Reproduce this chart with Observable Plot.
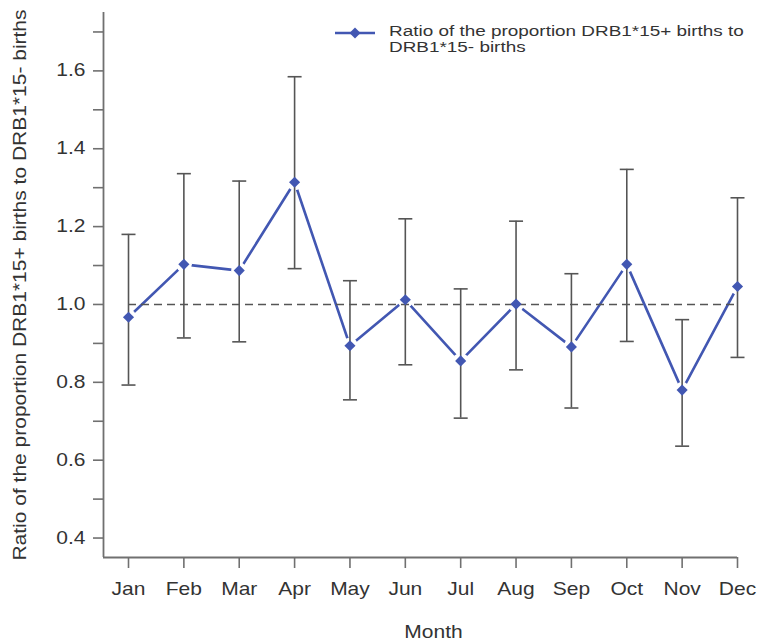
<!DOCTYPE html>
<html>
<head>
<meta charset="utf-8">
<script src="https://cdn.jsdelivr.net/npm/d3@7"></script>
<script src="https://cdn.jsdelivr.net/npm/@observablehq/plot@0.6"></script>
<style>
  html, body { margin: 0; padding: 0; background: #fff; }
  #wrap { position: relative; width: 765px; height: 642px; font-family: "Liberation Sans", Arial, sans-serif; }
  #legend { position: absolute; left: 334px; top: 23px; display: flex; align-items: flex-start; }
  #legend svg { display: block; margin-top: 1px; }
  #legend .txt { margin-left: 13px; font-size: 15.5px; line-height: 16px; color: #333; transform: scaleX(1.22); transform-origin: left top; white-space: nowrap; }
</style>
</head>
<body>
<div id="wrap">
  <div id="legend"></div>
</div>
<script>
// Month-of-birth ratios with 95% confidence limits
const months = ["Jan", "Feb", "Mar", "Apr", "May", "Jun", "Jul", "Aug", "Sep", "Oct", "Nov", "Dec"];
const ratio  = [0.967, 1.103, 1.087, 1.314, 0.894, 1.012, 0.855, 1.001, 0.891, 1.103, 0.780, 1.046];
const lower  = [0.793, 0.914, 0.904, 1.092, 0.755, 0.845, 0.708, 0.832, 0.734, 0.905, 0.636, 0.864];
const upper  = [1.180, 1.336, 1.317, 1.585, 1.061, 1.220, 1.040, 1.214, 1.079, 1.347, 0.961, 1.274];

const yTicks = [0.4, 0.5, 0.6, 0.7, 0.8, 0.9, 1.0, 1.1, 1.2, 1.3, 1.4, 1.5, 1.6, 1.7];
const yTickLabels = ["0.4", "", "0.6", "", "0.8", "", "1.0", "", "1.2", "", "1.4", "", "1.6", ""];
const reference = [1.0];

const seriesName = ["Ratio of the proportion DRB1*15+ births to", "DRB1*15- births"];
const yTitle = "Ratio of the proportion DRB1*15+ births to DRB1*15- births";
const xTitle = "Month";

const rows = months.map((m, i) => ({i, month: m, ratio: ratio[i], lower: lower[i], upper: upper[i]}));

const blue = "#4257b2";
const axisGray = "#707070";
const barGray = "#555555";
const xMin = -0.4516, xMax = 11;
const yMin = 0.35, yMax = 1.75;

// horizontal cap for the error bars
const cap = {
  draw(context, size) {
    const w = Math.sqrt(size / Math.PI);
    context.moveTo(-w, 0);
    context.lineTo(w, 0);
  }
};

const chart = Plot.plot({
  width: 765,
  height: 642,
  marginLeft: 103,
  marginRight: 28,
  marginTop: 12,
  marginBottom: 85,
  style: {fontFamily: "'Liberation Sans', Arial, sans-serif", fontSize: "17.5px", color: "#333", background: "white"},
  x: {domain: [xMin, xMax], axis: null},
  y: {domain: [yMin, yMax], axis: null},
  marks: [
    Plot.axisY(yTicks, {tickSize: 10, tickPadding: 8, tickFormat: d => yTickLabels[yTicks.indexOf(d)], label: null, stroke: axisGray, strokeWidth: 1.6, fill: "#333"}),
    Plot.axisX(rows.map(d => d.i), {tickSize: 11, tickPadding: 14, tickFormat: i => months[i], label: null, stroke: axisGray, strokeWidth: 1.6, fill: "#333"}),
    Plot.ruleX([xMin], {stroke: axisGray, strokeWidth: 1.8}),
    Plot.ruleY([yMin], {x1: xMin, x2: xMax, stroke: axisGray, strokeWidth: 1.8}),
    Plot.line(rows, {x: "i", y: "ratio", stroke: blue, strokeWidth: 2.6}),
    Plot.dot(rows, {x: "i", y: "ratio", r: 8, fill: "white"}),
    Plot.ruleY(reference, {x1: 0, x2: 11, stroke: barGray, strokeWidth: 1.6, strokeDasharray: "8,5"}),
    Plot.ruleX(rows, {x: "i", y1: "lower", y2: "upper", stroke: barGray, strokeWidth: 1.6}),
    Plot.dot(rows, {x: "i", y: "lower", symbol: cap, r: 7, stroke: barGray, strokeWidth: 1.6}),
    Plot.dot(rows, {x: "i", y: "upper", symbol: cap, r: 7, stroke: barGray, strokeWidth: 1.6}),
    Plot.dot(rows, {x: "i", y: "ratio", symbol: "diamond2", r: 5, fill: blue, stroke: "none"}),
    Plot.text([yTitle], {text: d => d, frameAnchor: "left", textAnchor: "middle", dx: -78, rotate: -90, lineAnchor: "bottom", fill: "#333"}),
    Plot.text([xTitle], {text: d => d, frameAnchor: "bottom", dx: 13, dy: 80, lineAnchor: "bottom", fill: "#333"})
  ]
});

// widen the lettering slightly, keeping each label's anchor point fixed
for (const t of chart.querySelectorAll("text")) {
  const tr = t.getAttribute("transform") || "";
  const x = +t.getAttribute("x") || 0;
  t.setAttribute("transform", `${tr} translate(${x},0) scale(1.2,1) translate(${-x},0)`.trim());
}

document.getElementById("wrap").appendChild(chart);
chart.style.position = "absolute";
chart.style.left = "0";
chart.style.top = "0";

// legend
const legend = document.getElementById("legend");
legend.innerHTML = `
  <svg width="42" height="20" viewBox="0 0 42 20">
    <line x1="1" y1="9" x2="41" y2="9" stroke="${blue}" stroke-width="2.6"/>
    <path d="M21,3.5 L26.5,9 L21,14.5 L15.5,9 Z" fill="${blue}"/>
  </svg>
  <div class="txt">${seriesName.join("<br>")}</div>`;
document.getElementById("wrap").appendChild(legend);
</script>
</body>
</html>
